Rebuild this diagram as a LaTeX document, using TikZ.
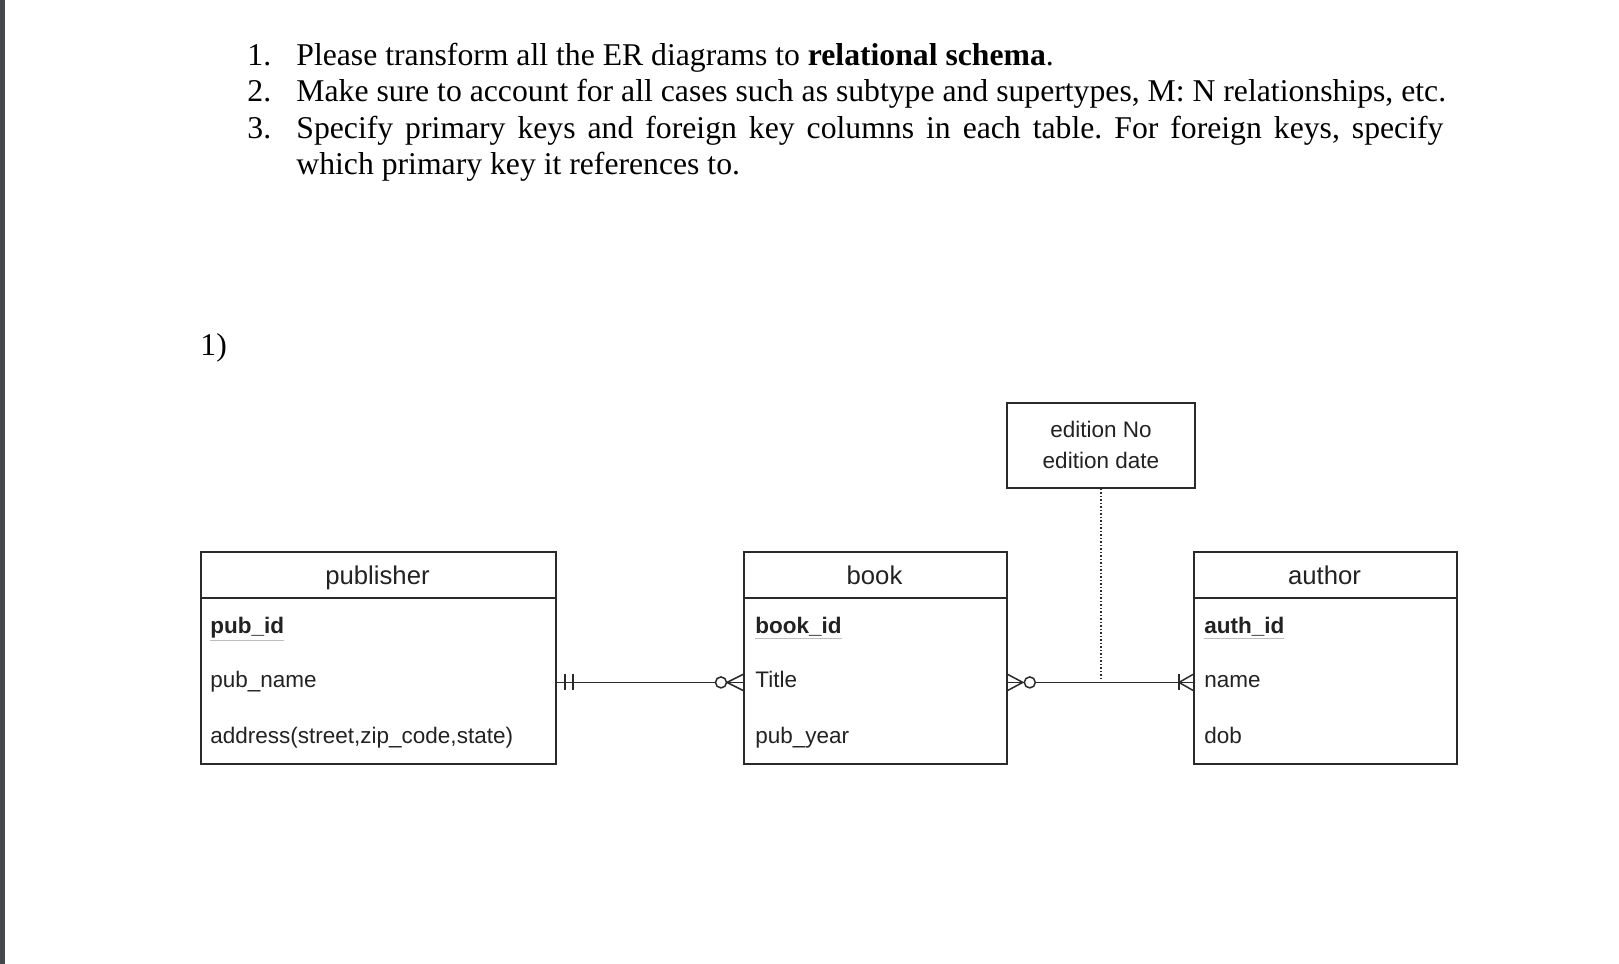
\documentclass[tikz,border=0pt]{standalone}
\usepackage{fontspec}
\setmainfont{Liberation Serif}
\newfontfamily\erfont{Liberation Sans}
\frenchspacing

\definecolor{barcol}{HTML}{43484C}
\definecolor{ercol}{HTML}{2A2A2A}
\definecolor{ertext}{HTML}{222222}
\definecolor{ulgray}{HTML}{BDBDBD}

\def\pk#1{{\color{ulgray}\underline{\color{ertext}\textbf{#1}}}}

\tikzset{
  entity/.style={draw=ercol,line width=0.9pt,inner sep=0,anchor=north west},
  head/.style={font=\erfont\fontsize{12.85}{15}\selectfont,text=ertext,anchor=base,inner sep=0},
  attr/.style={font=\erfont\fontsize{11.25}{13.5}\selectfont,text=ertext,anchor=base west,inner sep=0},
  task/.style={font=\fontsize{15.85}{19}\selectfont,anchor=base west,inner sep=0},
  rel/.style={draw=ercol,line width=0.75pt}
}

\begin{document}
\begin{tikzpicture}[x=0.5pt,y=-0.5pt]
  \useasboundingbox (0,0) rectangle (1619,964);
  \fill[barcol] (0,0) rectangle (5,964);

  \node[task] (n1) at (247,65) {1.};
  \node[task] (n2) at (247,101.5) {2.};
  \node[task] (n3) at (247,138) {3.};
  \node[task] (t1) at (296,65) {Please transform all the ER diagrams to \textbf{relational schema}.};
  \node[task] (t2) at (296,101.5) {Make sure to account for all cases such as subtype and supertypes, M: N relationships, etc.};
  \node[task] (t3) at (296,138) {\makebox[573.5pt][s]{Specify primary keys and foreign key columns in each table. For foreign keys, specify}};
  \node[task] (t4) at (296,174.5) {which primary key it references to.};
  \node[task] (q1) at (200,355) {1)};

  \node[entity,minimum width=177.5pt,minimum height=23pt] (pubhead) at (200,551) {};
  \node[entity,minimum width=177.5pt,minimum height=83pt] (pub) at (200,597) {};
  \node[entity,minimum width=131.5pt,minimum height=23pt] (bookhead) at (743,551) {};
  \node[entity,minimum width=131.5pt,minimum height=83pt] (book) at (743,597) {};
  \node[entity,minimum width=131.5pt,minimum height=23pt] (authhead) at (1193,551) {};
  \node[entity,minimum width=131.5pt,minimum height=83pt] (auth) at (1193,597) {};
  \node[entity,minimum width=94pt,minimum height=42.5pt,align=center,
        font=\erfont\fontsize{11.25}{15.5}\selectfont,text=ertext] (edition) at (1006,402) {edition No\\edition date};

  \node[head] (pubtitle) at (377.5,584) {publisher};
  \node[head] (booktitle) at (874.5,584) {book};
  \node[head] (authtitle) at (1324.5,584) {author};

  \node[attr] (pubid) at (210,633) {\pk{pub\_id}};
  \node[attr] (pubname) at (210,687) {pub\_name};
  \node[attr] (pubaddr) at (210,743) {address(street,zip\_code,state)};
  \node[attr] (bookid) at (755,633) {\pk{book\_id}};
  \node[attr] (title) at (755,687) {Title};
  \node[attr] (pubyear) at (755,743) {pub\_year};
  \node[attr] (authid) at (1204,633) {\pk{auth\_id}};
  \node[attr] (authname) at (1204,687) {name};
  \node[attr] (dob) at (1204,743) {dob};

  % publisher -- book
  \coordinate (c1s) at (pub.east |- pubname.mid);
  \coordinate (c1e) at (book.west |- title.mid);
  \draw[rel] (c1s) -- (c1e);
  \draw[rel] (c1s) ++(8,-8) -- ++(0,16) (c1s) ++(16,-8) -- ++(0,16);
  \draw[rel] (c1e) ++(-16,0) -- ++(16,-8) (c1e) ++(-16,0) -- ++(16,8);
  \draw[rel,fill=white] (c1e) ++(-22,0) circle[radius=2.75pt];

  % book -- author
  \coordinate (c2s) at (book.east |- title.mid);
  \coordinate (c2e) at (auth.west |- authname.mid);
  \draw[rel] (c2s) -- (c2e);
  \draw[rel] (c2s) ++(0,-8) -- ++(15,8) -- ++(-15,8);
  \draw[rel,fill=white] (c2s) ++(22,0) circle[radius=2.75pt];
  \draw[rel] (c2e) ++(-14,-8) -- ++(0,16);
  \draw[rel] (c2e) ++(-14,0) -- ++(14,-8) (c2e) ++(-14,0) -- ++(14,8);

  \draw[rel,densely dotted,line width=0.6pt,shorten >=2pt] (edition.south) -- (edition.south |- title.mid);
\end{tikzpicture}
\end{document}
